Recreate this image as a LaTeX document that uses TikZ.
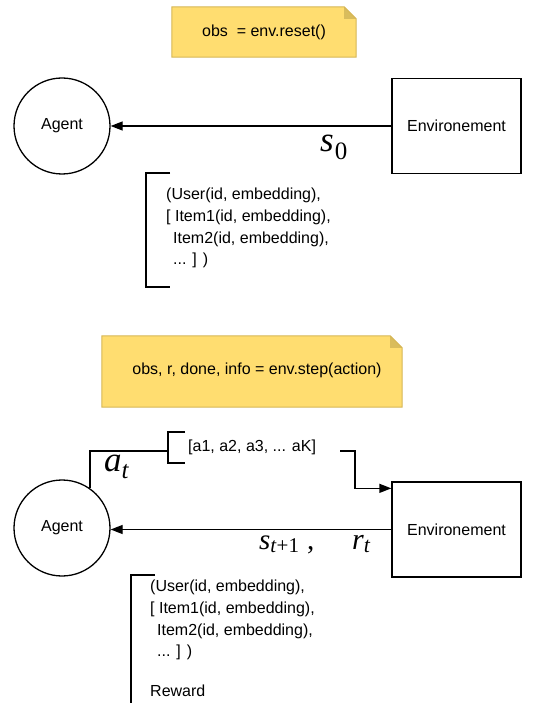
\documentclass[tikz,border=0pt]{standalone}
\usepackage{fontspec}
\setmainfont{Liberation Sans}
\newfontfamily\mfont{Liberation Serif}
\usetikzlibrary{arrows.meta}
\definecolor{notefill}{HTML}{FFDD70}
\definecolor{noteedge}{HTML}{D6B656}
\definecolor{notefold}{HTML}{D9BC5C}
\tikzset{
  txt/.style={font=\fontsize{16}{21.7}\selectfont},
  agentnode/.style={circle,draw,line width=1.3pt,minimum size=96pt,inner sep=0pt,txt},
  envnode/.style={rectangle,draw,line width=1.3pt,minimum width=129pt,minimum height=95pt,inner sep=0pt,txt},
  notebox/.style={rectangle,minimum height=#1,inner sep=0pt,txt},
  mlbl/.style={inner sep=0pt,anchor=base west},
  conn/.style={line width=1.3pt,-{Triangle[length=12pt,width=9pt]}},
  brk/.style={line width=1.3pt},
  blk/.style={inner sep=0pt,align=left,anchor=north west,txt},
}
% letter, subscript, letter size, subscript size, drop
\newcommand{\mlab}[5]{{\fontsize{#3}{#3}\selectfont\mfont\itshape #1}\raisebox{-#5}{\fontsize{#4}{#4}\selectfont\mfont #2}}
\newcommand{\notedraw}[1]{%
  \fill[notefill] (#1.south west) -- (#1.north west) -- ([xshift=-12pt]#1.north east) -- ([yshift=-12pt]#1.north east) -- (#1.south east) -- cycle;
  \fill[notefold] ([xshift=-12pt]#1.north east) -- ([xshift=-12pt,yshift=-12pt]#1.north east) -- ([yshift=-12pt]#1.north east) -- cycle;
  \draw[noteedge,line width=1pt] (#1.south west) -- (#1.north west) -- ([xshift=-12pt]#1.north east) -- ([yshift=-12pt]#1.north east) -- (#1.south east) -- cycle;
}
\begin{document}
\begin{tikzpicture}[x=1pt,y=-1pt]
\useasboundingbox (0,0) rectangle (545,703);

% ---------- top part ----------
\node[notebox=50pt,minimum width=184pt] (note1) at (264,32) {};
\notedraw{note1}
\node[txt] (note1t) at (264,32) {obs\ \ = env.reset()};

\node[agentnode] (agent1) at (62,126) {Agent};
\node[envnode] (env1) at (456.5,126) {Environement};
\draw[conn] (env1.west) -- (agent1.east);
\node[mlbl] (s0) at (320,152) {\mlab{s}{\hspace{1pt}0}{35}{25}{8pt}};

\coordinate (b1t) at (146,173);
\coordinate (b1b) at (146,287);
\draw[brk] ([xshift=24pt]b1t) -- (b1t) -- (b1b) -- ([xshift=24pt]b1b);
\node[blk] (obs1) at (166,188) {(User(id, embedding),\\{[} Item1(id, embedding),\\\hspace*{7pt}Item2(id, embedding),\\\hspace*{7pt}... ] )};

% ---------- bottom part ----------
\node[notebox=71pt,minimum width=300pt] (note2) at (252,371.5) {};
\notedraw{note2}
\node[txt] (note2t) at (257,370) {obs, r, done, info = env.step(action)};

\node[agentnode] (agent2) at (62,528) {Agent};
\node[envnode] (env2) at (456.5,529.5) {Environement};
\draw[conn] (env2.west) -- (agent2.east |- env2.west);
\node[mlbl] (st) at (259,549) {\mlab{s}{\textit{t}+1}{29}{21}{3pt}{\fontsize{29}{29}\selectfont\mfont\hspace{8pt},}};
\node[mlbl] (rt) at (352,549) {\mlab{r}{\textit{t}}{30}{22}{3pt}};

\coordinate (ab) at (168,451);
\draw[brk] (agent2.55.8) |- (ab);
\draw[brk] (185,432) -- (168,432) -- (168,463) -- (185,463);
\node[txt,inner sep=0pt,anchor=west] (acts) at (188,447) {{[}a1, a2, a3, ... aK]};
\node[mlbl] (at) at (104,471) {\mlab{a}{\textit{t}}{35}{25}{7pt}};
\coordinate (ar) at (340,451);
\draw[conn] (ar) -- (355,451) |- ([yshift=-7pt]env2.north west);

\coordinate (b2t) at (131,575);
\coordinate (b2b) at (131,706);
\draw[brk] ([xshift=24pt]b2t) -- (b2t) -- (b2b);
\node[blk] (obs2) at (150,580) {(User(id, embedding),\\{[} Item1(id, embedding),\\\hspace*{7pt}Item2(id, embedding),\\\hspace*{7pt}... ] )\\[18pt]Reward};
\end{tikzpicture}
\end{document}
